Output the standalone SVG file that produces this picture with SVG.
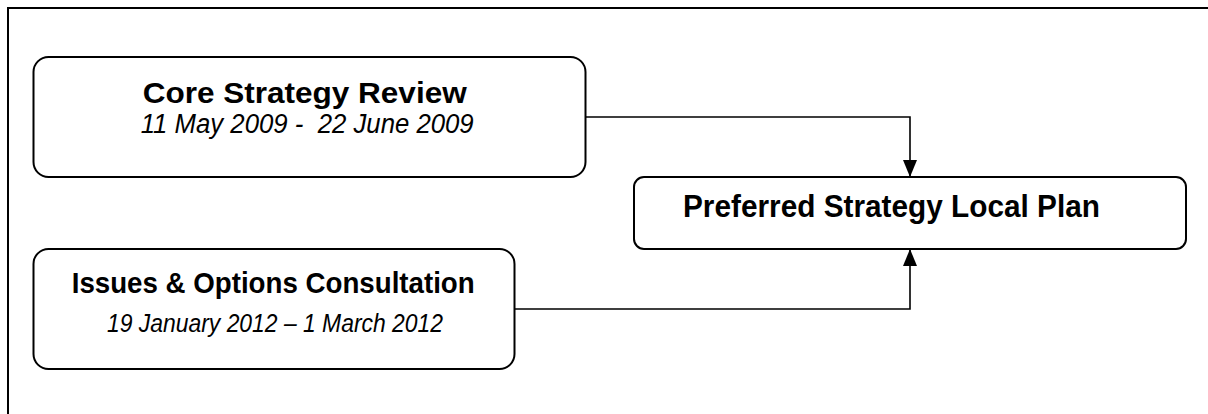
<svg xmlns="http://www.w3.org/2000/svg" width="1208" height="414" viewBox="0 0 1208 414">
<style>
.box{fill:#fff;stroke:#000;stroke-width:2}
.conn{fill:none;stroke:#000;stroke-width:1.6}
.t{font-family:"Liberation Sans",Arial,sans-serif;fill:#000;white-space:pre}
.b{font-weight:bold}
.i{font-style:italic}
</style>
<defs>
<marker id="arr" viewBox="0 0 17 14" refX="17" refY="7" markerWidth="17" markerHeight="14" markerUnits="userSpaceOnUse" orient="auto">
<path d="M0,0 L17,7 L0,14 z" fill="#000"/>
</marker>
</defs>
<rect x="0" y="0" width="1208" height="414" fill="#fff"/>
<rect id="frame" x="8" y="8" width="1230" height="430" fill="none" stroke="#000" stroke-width="2"/>
<g id="connectors">
<path class="conn" d="M585,117 H910 V177" marker-end="url(#arr)"/>
<path class="conn" d="M514,309 H910 V249" marker-end="url(#arr)"/>
</g>
<g id="core">
<rect class="box" x="33.5" y="57" width="552" height="120" rx="15"/>
<text class="t b" x="142.7" y="103" font-size="30" textLength="324" lengthAdjust="spacingAndGlyphs">Core Strategy Review</text>
<text class="t i" x="140.7" y="133" font-size="27" textLength="333" lengthAdjust="spacingAndGlyphs" xml:space="preserve">11 May 2009 -  22 June 2009</text>
</g>
<g id="preferred">
<rect class="box" x="634" y="177" width="552" height="72" rx="10"/>
<text class="t b" x="683" y="217" font-size="31" textLength="417" lengthAdjust="spacingAndGlyphs">Preferred Strategy Local Plan</text>
</g>
<g id="issues">
<rect class="box" x="33.5" y="249" width="481" height="120" rx="15"/>
<text class="t b" x="71.7" y="293" font-size="30" textLength="403" lengthAdjust="spacingAndGlyphs">Issues &amp; Options Consultation</text>
<text class="t i" x="107" y="332" font-size="26" textLength="336" lengthAdjust="spacingAndGlyphs">19 January 2012 – 1 March 2012</text>
</g>
</svg>
